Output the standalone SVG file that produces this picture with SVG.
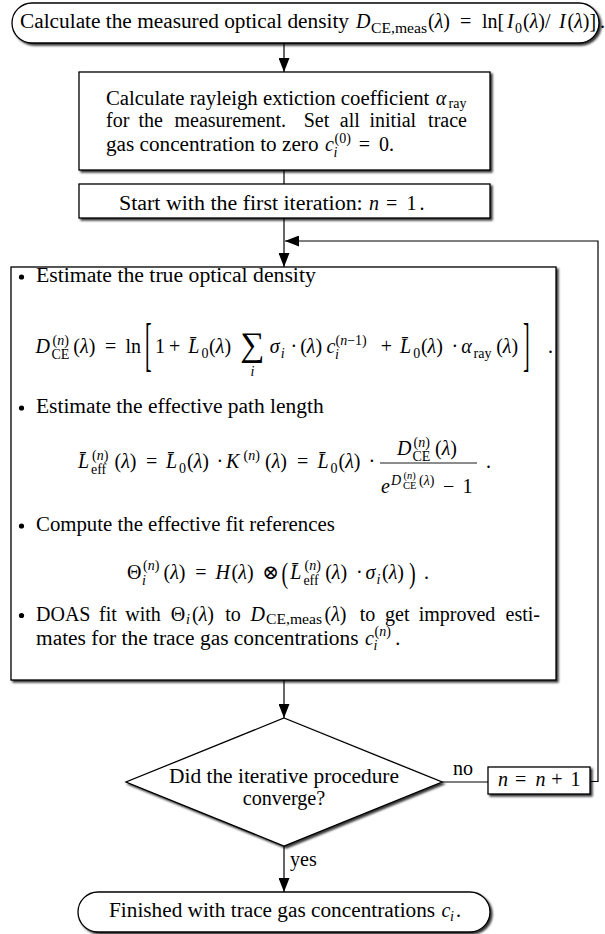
<svg xmlns="http://www.w3.org/2000/svg" width="605" height="934" viewBox="0 0 605 934">
<style>
.t{font-family:"Liberation Serif","DejaVu Serif",serif;font-size:20px;fill:#000}
.m{font-style:italic}
.s{font-size:14px}
.ss{font-size:10.5px}
.big{font-size:34px}
.node{fill:#fff;stroke:#000;stroke-width:1.3;filter:url(#sh)}
.edge{fill:none;stroke:#000;stroke-width:1.2}
.bar{stroke:#000;stroke-width:0.9}
</style>
<defs>
<filter id="sh" x="-5%" y="-5%" width="115%" height="130%">
<feDropShadow dx="2" dy="2" stdDeviation="0.9" flood-color="#000" flood-opacity="0.8"/>
</filter>
<marker id="ah" viewBox="0 0 14 11" refX="14" refY="5.5" markerWidth="14" markerHeight="11" markerUnits="userSpaceOnUse" orient="auto">
<path d="M0,0 L14,5.5 L0,11 Z" fill="#000"/>
</marker>
</defs>
<rect width="605" height="934" fill="#fff"/>

<g id="connectors">
<line class="edge" x1="284" y1="43" x2="284" y2="72" marker-end="url(#ah)"/>
<line class="edge" x1="284" y1="170" x2="284" y2="184"/>
<line class="edge" x1="284" y1="218" x2="284" y2="267" marker-end="url(#ah)"/>
<path class="edge" d="M590,781.5 H598 V241 H285" marker-end="url(#ah)"/>
<line class="edge" x1="284" y1="680" x2="284" y2="718" marker-end="url(#ah)"/>
<line class="edge" x1="442" y1="782" x2="488" y2="782"/>
<line class="edge" x1="284" y1="846" x2="284" y2="892" marker-end="url(#ah)"/>
<text class="t" x="453" y="775">no</text>
<text class="t" x="290" y="866">yes</text>
</g>

<g id="start">
<rect class="node" x="12" y="3" width="587" height="40" rx="20"/>
<text class="t" x="20" y="28" textLength="329" lengthAdjust="spacingAndGlyphs">Calculate the measured optical density</text>
<text class="t" y="28"><tspan x="356" class="m">D</tspan><tspan x="371" y="32.5" class="s" textLength="56" lengthAdjust="spacingAndGlyphs">CE,meas</tspan><tspan x="428" y="28">(</tspan><tspan class="m">λ</tspan><tspan>)</tspan><tspan x="460">=</tspan><tspan x="482">ln[</tspan><tspan x="507" class="m">I</tspan><tspan x="515" y="32.5" class="s">0</tspan><tspan x="523" y="28">(</tspan><tspan class="m">λ</tspan><tspan>)/</tspan><tspan x="559" class="m">I</tspan><tspan x="567.5">(</tspan><tspan class="m">λ</tspan><tspan>)]</tspan><tspan x="600">.</tspan></text>
</g>

<g id="rayleigh">
<rect class="node" x="79" y="72" width="411" height="98"/>
<text class="t" x="106" y="104.5" textLength="323.3" lengthAdjust="spacingAndGlyphs">Calculate rayleigh extiction coefficient</text>
<text class="t" y="104.5"><tspan x="435.7" class="m">α</tspan><tspan x="448.5" y="107.5" class="s">ray</tspan></text>
<text class="t" y="127"><tspan x="106">for</tspan><tspan x="138.4">the</tspan><tspan x="174.5">measurement.</tspan><tspan x="303.7">Set</tspan><tspan x="339.8">all</tspan><tspan x="369.5">initial</tspan><tspan x="428.1">trace</tspan></text>
<text class="t" x="106" y="150.5" textLength="212.5" lengthAdjust="spacingAndGlyphs">gas concentration to zero</text>
<text class="t" y="150.5"><tspan x="325" class="m">c</tspan><tspan x="334.5" y="142.5" class="s">(0)</tspan><tspan x="333.5" y="157" class="s m">i</tspan><tspan x="358.7" y="150.5">=</tspan><tspan x="379">0.</tspan></text>
</g>

<g id="first-iteration">
<rect class="node" x="79" y="184" width="411" height="34"/>
<text class="t" x="119" y="210" textLength="243.7" lengthAdjust="spacingAndGlyphs">Start with the first iteration:</text>
<text class="t" y="210"><tspan x="369" class="m">n</tspan><tspan x="386">=</tspan><tspan x="406.5">1</tspan><tspan x="419.5">.</tspan></text>
</g>

<g id="iteration">
<rect class="node" x="11" y="267" width="545" height="413"/>
<circle cx="21.5" cy="277" r="2.6"/>
<text class="t" x="36" y="282" textLength="279.8" lengthAdjust="spacingAndGlyphs">Estimate the true optical density</text>
<text class="t" y="353"><tspan x="35.5" class="m">D</tspan><tspan x="52.5" y="344.5" class="s">(</tspan><tspan class="s m">n</tspan><tspan class="s">)</tspan><tspan x="51.5" y="359" class="s">CE</tspan><tspan x="73.3" y="353">(</tspan><tspan class="m">λ</tspan><tspan>)</tspan><tspan x="105">=</tspan><tspan x="125.4">ln</tspan><tspan x="155">1</tspan><tspan x="169">+</tspan><tspan x="188.3" class="m">L&#x304;</tspan><tspan x="201.4" y="357.5" class="s">0</tspan><tspan x="209.1" y="353">(</tspan><tspan class="m">λ</tspan><tspan>)</tspan><tspan x="269.7" class="m">σ</tspan><tspan x="280.7" y="357.5" class="s m">i</tspan><tspan x="290.6" y="353">·</tspan><tspan x="300.2">(</tspan><tspan class="m">λ</tspan><tspan>)</tspan><tspan x="326.5" class="m">c</tspan><tspan x="335.5" y="344.5" class="s">(</tspan><tspan class="s m">n</tspan><tspan class="s">−1)</tspan><tspan x="335" y="359" class="s m">i</tspan><tspan x="380.8" y="353">+</tspan><tspan x="400.1" class="m">L&#x304;</tspan><tspan x="413.2" y="357.5" class="s">0</tspan><tspan x="420.9" y="353">(</tspan><tspan class="m">λ</tspan><tspan>)</tspan><tspan x="451.5">·</tspan><tspan x="461.2" class="m">α</tspan><tspan x="473.6" y="357.5" class="s">ray</tspan><tspan x="496.2" y="353">(</tspan><tspan class="m">λ</tspan><tspan>)</tspan><tspan x="548">.</tspan></text>
<text class="t" transform="translate(145,0) scale(1,2.93)" x="0" y="124.2">[</text>
<text class="t" transform="translate(523,0) scale(1,2.93)" x="0" y="124.2">]</text>
<text class="t big" x="240" y="356">∑</text>
<text class="t s m" x="252.5" y="376" text-anchor="middle">i</text>

<circle cx="21.5" cy="408" r="2.6"/>
<text class="t" x="36" y="413" textLength="287.7" lengthAdjust="spacingAndGlyphs">Estimate the effective path length</text>
<text class="t" y="468"><tspan x="78" class="m">L&#x304;</tspan><tspan x="92" y="459.5" class="s">(</tspan><tspan class="s m">n</tspan><tspan class="s">)</tspan><tspan x="91" y="474" class="s">eff</tspan><tspan x="114.5" y="468">(</tspan><tspan class="m">λ</tspan><tspan>)</tspan><tspan x="146">=</tspan><tspan x="166" class="m">L&#x304;</tspan><tspan x="179" y="472.5" class="s">0</tspan><tspan x="187" y="468">(</tspan><tspan class="m">λ</tspan><tspan>)</tspan><tspan x="216.5">·</tspan><tspan x="226" class="m">K</tspan><tspan x="243.5" y="459.5" class="s">(</tspan><tspan class="s m">n</tspan><tspan class="s">)</tspan><tspan x="265" y="468">(</tspan><tspan class="m">λ</tspan><tspan>)</tspan><tspan x="297">=</tspan><tspan x="317.5" class="m">L&#x304;</tspan><tspan x="330.6" y="472.5" class="s">0</tspan><tspan x="338.5" y="468">(</tspan><tspan class="m">λ</tspan><tspan>)</tspan><tspan x="368.5">·</tspan><tspan x="486">.</tspan></text>
<text class="t" y="455"><tspan x="397" class="m">D</tspan><tspan x="413.5" y="447" class="s">(</tspan><tspan class="s m">n</tspan><tspan class="s">)</tspan><tspan x="412.5" y="460.5" class="s">CE</tspan><tspan x="435" y="455">(</tspan><tspan class="m">λ</tspan><tspan>)</tspan></text>
<line class="bar" x1="380" y1="463" x2="477" y2="463"/>
<text class="t" y="493"><tspan x="381" class="m">e</tspan><tspan x="391" y="485" class="s m">D</tspan><tspan x="403.5" y="479" class="ss">(</tspan><tspan class="ss m">n</tspan><tspan class="ss">)</tspan><tspan x="403" y="489" class="ss">CE</tspan><tspan x="419" y="485" class="s">(</tspan><tspan class="s m">λ</tspan><tspan class="s">)</tspan><tspan x="443" y="493">−</tspan><tspan x="462.6">1</tspan></text>

<circle cx="21.5" cy="526" r="2.6"/>
<text class="t" x="36" y="531" textLength="298.8" lengthAdjust="spacingAndGlyphs">Compute the effective fit references</text>
<text class="t" y="579"><tspan x="127">Θ</tspan><tspan x="143" y="570" class="s">(</tspan><tspan class="s m">n</tspan><tspan class="s">)</tspan><tspan x="142" y="585" class="s m">i</tspan><tspan x="163.5" y="579">(</tspan><tspan class="m">λ</tspan><tspan>)</tspan><tspan x="195.2">=</tspan><tspan x="215.6" class="m">H</tspan><tspan x="231.6">(</tspan><tspan class="m">λ</tspan><tspan>)</tspan><tspan x="262.2">⊗</tspan><tspan x="290.3" class="m">L&#x304;</tspan><tspan x="304.5" y="570" class="s">(</tspan><tspan class="s m">n</tspan><tspan class="s">)</tspan><tspan x="303.4" y="585" class="s">eff</tspan><tspan x="325.2" y="579">(</tspan><tspan class="m">λ</tspan><tspan>)</tspan><tspan x="356">·</tspan><tspan x="365.5" class="m">σ</tspan><tspan x="376.5" y="583.5" class="s m">i</tspan><tspan x="382" y="579">(</tspan><tspan class="m">λ</tspan><tspan>)</tspan><tspan x="424">.</tspan></text>
<text class="t" transform="translate(281.5,0) scale(1,1.47)" x="0" y="396.5">(</text>
<text class="t" transform="translate(409,0) scale(1,1.47)" x="0" y="396.5">)</text>

<circle cx="21.5" cy="615.5" r="2.6"/>
<text class="t" y="620.5"><tspan x="36">DOAS</tspan><tspan x="99">fit</tspan><tspan x="125.2">with</tspan><tspan x="170.8">Θ</tspan><tspan x="186" y="624" class="s m">i</tspan><tspan x="192" y="620.5">(</tspan><tspan class="m">λ</tspan><tspan>)</tspan><tspan x="225.3">to</tspan><tspan x="250.5" class="m">D</tspan><tspan x="266" y="624" class="s" textLength="56" lengthAdjust="spacingAndGlyphs">CE,meas</tspan><tspan x="324.5" y="620.5">(</tspan><tspan class="m">λ</tspan><tspan>)</tspan><tspan x="359.8">to</tspan><tspan x="385">get</tspan><tspan x="418.7">improved</tspan><tspan x="505.6">esti-</tspan></text>
<text class="t" x="36" y="644.5" textLength="322.6" lengthAdjust="spacingAndGlyphs">mates for the trace gas concentrations</text>
<text class="t" y="644.5"><tspan x="365" class="m">c</tspan><tspan x="374.5" y="635.5" class="s">(</tspan><tspan class="s m">n</tspan><tspan class="s">)</tspan><tspan x="373.5" y="650" class="s m">i</tspan><tspan x="395.2" y="644.5">.</tspan></text>
</g>

<g id="converge">
<polygon class="node" points="284,718 442,782 284,846 126,782"/>
<text class="t" x="284" y="783" text-anchor="middle" textLength="230" lengthAdjust="spacingAndGlyphs">Did the iterative procedure</text>
<text class="t" x="284" y="805" text-anchor="middle" textLength="82.6" lengthAdjust="spacingAndGlyphs">converge?</text>
</g>

<g id="increment">
<rect class="node" x="488" y="767" width="102" height="27"/>
<text class="t" y="786"><tspan x="498" class="m">n</tspan><tspan x="515">=</tspan><tspan x="535.4" class="m">n</tspan><tspan x="551.3">+</tspan><tspan x="570.6">1</tspan></text>
</g>

<g id="finish">
<rect class="node" x="78" y="892" width="412" height="40" rx="20"/>
<text class="t" x="109" y="917" textLength="326.1" lengthAdjust="spacingAndGlyphs">Finished with trace gas concentrations</text>
<text class="t" y="917"><tspan x="441.5" class="m">c</tspan><tspan x="450" y="921" class="s m">i</tspan><tspan x="456" y="917">.</tspan></text>
</g>
</svg>
